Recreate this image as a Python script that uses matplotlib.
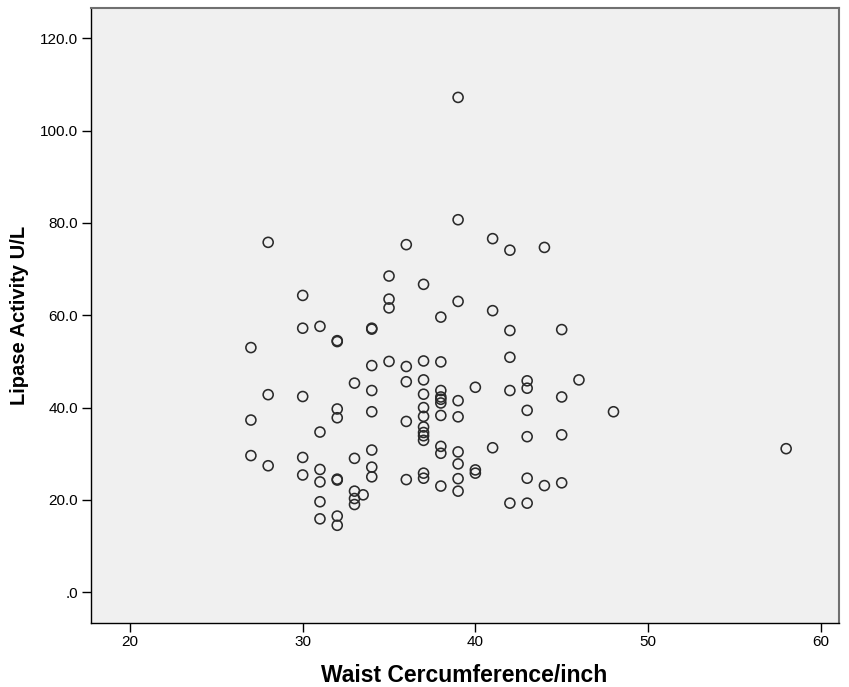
import matplotlib
matplotlib.use('Agg')
from matplotlib import pyplot as plt
from matplotlib.ticker import FuncFormatter

# waist circumference (inch) and lipase activity (U/L)
waist = [27, 27, 27,
         28, 28, 28,
         30, 30, 30, 30, 30,
         31, 31, 31, 31, 31, 31,
         32, 32, 32, 32, 32, 32, 32, 32,
         33, 33, 33, 33, 33,
         33.5,
         34, 34, 34, 34, 34, 34, 34, 34,
         35, 35, 35, 35,
         36, 36, 36, 36, 36,
         37, 37, 37, 37, 37, 37, 37, 37, 37, 37, 37, 37,
         38, 38, 38, 38, 38, 38, 38, 38, 38, 38,
         39, 39, 39, 39, 39, 39, 39, 39, 39,
         40, 40, 40,
         41, 41, 41,
         42, 42, 42, 42, 42,
         43, 43, 43, 43, 43, 43,
         44, 44,
         45, 45, 45, 45,
         46, 48, 58]
lipase = [53.0, 37.3, 29.6,
          75.8, 42.8, 27.4,
          64.3, 57.2, 42.4, 29.2, 25.4,
          57.6, 34.7, 26.6, 23.9, 19.6, 15.9,
          54.3, 54.5, 39.7, 37.8, 24.3, 24.5, 16.5, 14.5,
          45.3, 29.0, 21.9, 20.3, 19.0,
          21.1,
          57.0, 57.2, 49.1, 43.7, 39.1, 30.8, 27.1, 25.0,
          68.5, 63.5, 61.6, 50.0,
          75.3, 48.9, 45.6, 37.0, 24.4,
          66.7, 50.1, 46.0, 42.9, 40.0, 38.1, 35.8, 34.6, 33.9, 32.9, 25.8, 24.7,
          59.6, 49.9, 43.7, 42.3, 41.8, 41.0, 38.3, 31.6, 30.1, 23.0,
          107.2, 80.7, 63.0, 41.5, 38.0, 30.4, 27.8, 24.6, 21.9,
          44.4, 26.5, 25.8,
          76.6, 61.0, 31.3,
          74.1, 56.7, 50.9, 43.7, 19.3,
          45.8, 44.2, 39.4, 33.7, 24.7, 19.3,
          74.7, 23.1,
          56.9, 42.3, 34.1, 23.7,
          46.0, 39.1, 31.1]

x_ticks = [20, 30, 40, 50, 60]
y_ticks = [0, 20, 40, 60, 80, 100, 120]

plt.rcParams['font.family'] = ['Liberation Sans', 'DejaVu Sans']

fig = plt.figure(figsize=(8.49, 6.87), dpi=100)
ax = fig.add_axes([0.1068, 0.0936, 0.8812, 0.8943])
ax.set_facecolor('#f0f0f0')

ax.scatter(waist, lipase, s=52, facecolors='none', edgecolors='#2a2a2a',
           linewidths=1.15, zorder=3)

ax.set_xlim(17.72, 61.05)
ax.set_ylim(-6.6, 126.5)
ax.set_xticks(x_ticks)
ax.set_yticks(y_ticks)


def fmt_y(v, pos):
    s = f'{v:.1f}'
    return s[1:] if s.startswith('0') else s


ax.yaxis.set_major_formatter(FuncFormatter(fmt_y))
ax.tick_params(direction='out', length=6.5, width=1.0, labelsize=11,
               colors='black', pad=2.5)

for side in ['left', 'bottom']:
    ax.spines[side].set_color('black')
    ax.spines[side].set_linewidth(1.0)
for side in ['top', 'right']:
    ax.spines[side].set_color('#707070')
    ax.spines[side].set_linewidth(1.5)

fig.text(0.5465, 1 - 676 / 687, 'Waist Cercumference/inch', ha='center',
         va='center', fontsize=16.5, fontweight='bold')
fig.text(20 / 849, 1 - 315 / 687, 'Lipase Activity U/L', ha='center',
         va='center', rotation=90, fontsize=14.5, fontweight='bold')

fig.savefig('out.png', dpi=100)
